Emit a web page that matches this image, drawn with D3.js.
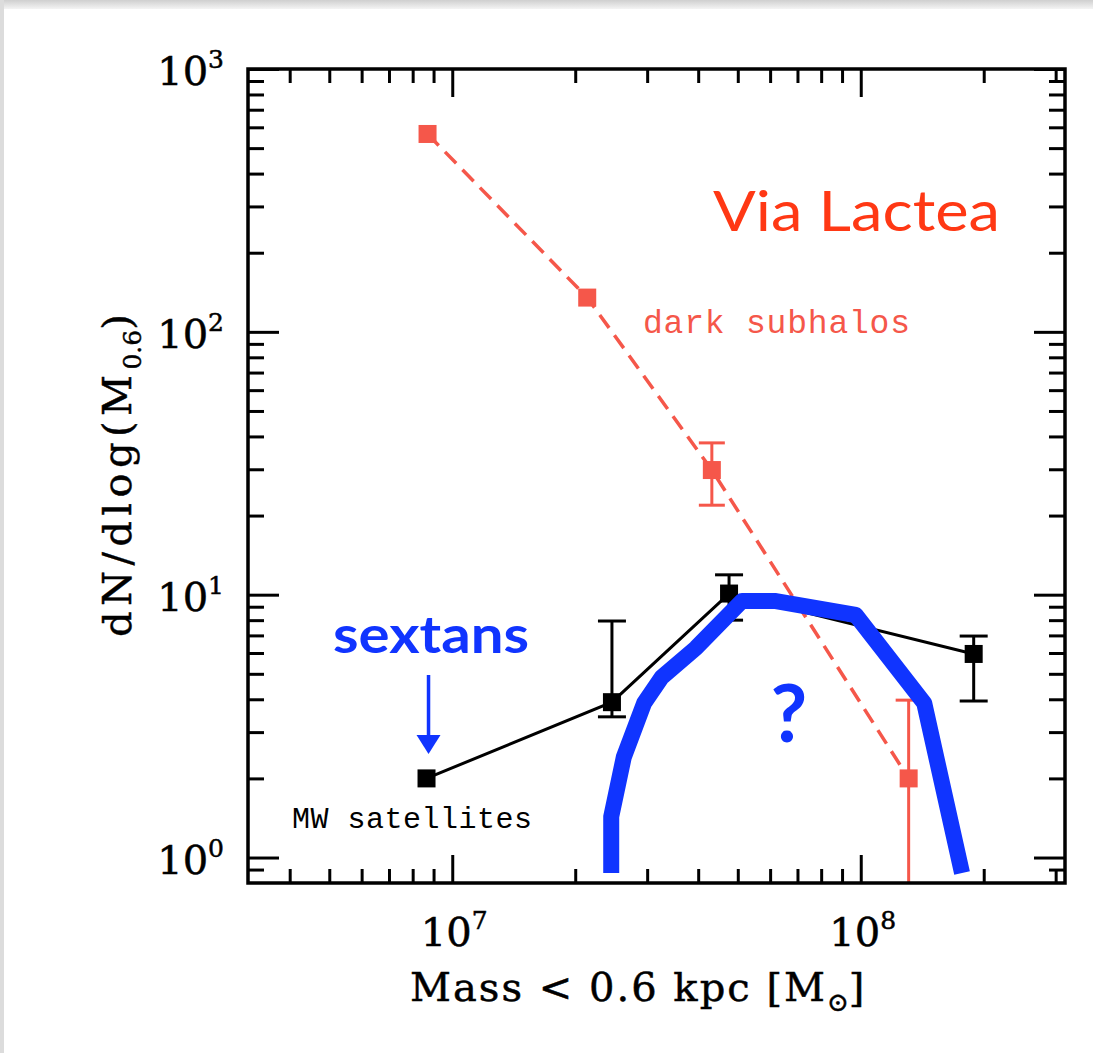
<!DOCTYPE html>
<html><head><meta charset="utf-8">
<script src="https://cdn.jsdelivr.net/npm/d3@7"></script>
<style>html,body{margin:0;padding:0;background:#fff;}svg{display:block;}</style>
</head><body>
<script>
// ---------- data ----------
const subhaloMass = [8.7e6, 2.14e7, 4.32e7, 1.31e8];
const subhaloN    = [566, 135, 29.8, 2.0];
const subhaloErrLo = [null, null, 21.9, 0];
const subhaloErrHi = [null, null, 37.8, 3.97];

const mwMass = [8.65e6, 2.46e7, 4.76e7, 1.89e8];
const mwN    = [2.0, 3.9, 10.1, 5.95];
const mwErrLo = [null, 3.43, 8.0, 3.94];
const mwErrHi = [null, 7.94, 11.9, 6.96];

// hand-drawn blue curve (data units)
const curveMass = [2.45e7, 2.45e7, 2.63e7, 2.95e7, 3.26e7, 3.95e7, 5.12e7, 6.2e7, 9.72e7, 1.43e8, 1.77e8];
const curveN    = [0.873, 1.43, 2.41, 3.87, 4.86, 6.27, 9.46, 9.46, 8.37, 3.87, 0.873];

const xMajorTicks = [1e7, 1e8];
const xMajorExp = ["7", "8"];
const yMajorTicks = [1, 10, 100, 1000];
const yMajorExp = ["0", "1", "2", "3"];

// ---------- layout ----------
const W = 1093, H = 1053;
const L = 248, R = 1065, T = 69, B = 883;
const RED = "#f5574a", BLUE = "#1034ff", VIA = "#ff3814";

const svg = d3.select("body").append("svg").attr("width", W).attr("height", H);

const defs = svg.append("defs");
const g1 = defs.append("linearGradient").attr("id","topShade").attr("x1",0).attr("x2",0).attr("y1",0).attr("y2",1);
g1.append("stop").attr("offset","0%").attr("stop-color","#cfcfcf");
g1.append("stop").attr("offset","100%").attr("stop-color","#f4f4f4");
svg.append("rect").attr("x",0).attr("y",0).attr("width",W).attr("height",H).attr("fill","#ffffff");
svg.append("rect").attr("x",0).attr("y",0).attr("width",W).attr("height",9).attr("fill","url(#topShade)");
svg.append("rect").attr("x",0).attr("y",0).attr("width",4).attr("height",H).attr("fill","#dcdcdc");

const x = d3.scaleLog().domain([Math.pow(10,6.5), Math.pow(10,8.5)]).range([L, R]);
const y = d3.scaleLog().domain([0.8, 1000]).range([B, T]);

const xMinor = [];
for (let e = 6; e <= 8; e++) for (let m = 2; m <= 9; m++) {
  const v = m * Math.pow(10, e);
  if (v > x.domain()[0] * 1.01 && v < x.domain()[1] * 0.99) xMinor.push(v);
}
const yMinor = [];
for (let e = -1; e <= 2; e++) for (let m = 2; m <= 9; m++) {
  const v = m * Math.pow(10, e);
  if (v > y.domain()[0] * 1.01 && v < y.domain()[1] * 0.99) yMinor.push(v);
}

const axG = svg.append("g");
function styleAxis(sel) {
  sel.select(".domain").remove();
  sel.selectAll(".tick line").attr("stroke", "#000").attr("stroke-width", 3);
}
axG.append("g").attr("transform", `translate(0,${B})`)
  .call(d3.axisBottom(x).tickValues(xMinor).tickSize(-14).tickFormat("")).call(styleAxis);
axG.append("g").attr("transform", `translate(0,${B})`)
  .call(d3.axisBottom(x).tickValues(xMajorTicks).tickSize(-28).tickFormat("")).call(styleAxis);
axG.append("g").attr("transform", `translate(0,${T})`)
  .call(d3.axisTop(x).tickValues(xMinor).tickSize(-14).tickFormat("")).call(styleAxis);
axG.append("g").attr("transform", `translate(0,${T})`)
  .call(d3.axisTop(x).tickValues(xMajorTicks).tickSize(-28).tickFormat("")).call(styleAxis);
axG.append("g").attr("transform", `translate(${L},0)`)
  .call(d3.axisLeft(y).tickValues(yMinor).tickSize(-16).tickFormat("")).call(styleAxis);
axG.append("g").attr("transform", `translate(${L},0)`)
  .call(d3.axisLeft(y).tickValues(yMajorTicks).tickSize(-31).tickFormat("")).call(styleAxis);
axG.append("g").attr("transform", `translate(${R},0)`)
  .call(d3.axisRight(y).tickValues(yMinor).tickSize(-16).tickFormat("")).call(styleAxis);
axG.append("g").attr("transform", `translate(${R},0)`)
  .call(d3.axisRight(y).tickValues(yMajorTicks).tickSize(-31).tickFormat("")).call(styleAxis);

// tick labels with superscripts
const labFont = "'DejaVu Serif', 'Liberation Serif', serif";
function heavy(sel, c) { return sel.attr("stroke", c).attr("stroke-width", 0.5).attr("paint-order", "stroke"); }
xMajorTicks.forEach((v, i) => {
  const t = svg.append("text").attr("x", x(v) + 2).attr("y", 946)
    .attr("text-anchor", "middle").attr("font-family", labFont).attr("font-size", 40).attr("fill", "#000");
  heavy(t, "#000");
  t.append("tspan").text("10");
  t.append("tspan").attr("font-size", 25).attr("dy", -17).text(xMajorExp[i]);
});
yMajorTicks.forEach((v, i) => {
  const t = svg.append("text").attr("x", 224).attr("y", y(v) + 16)
    .attr("text-anchor", "end").attr("font-family", labFont).attr("font-size", 40).attr("fill", "#000");
  heavy(t, "#000");
  t.append("tspan").text("10");
  t.append("tspan").attr("font-size", 25).attr("dy", -17).text(yMajorExp[i]);
});

// axis titles
const xt = svg.append("text").attr("x", 410).attr("y", 1001)
  .attr("font-family", labFont).attr("font-size", 40).attr("fill", "#000");
heavy(xt, "#000");
xt.append("tspan").attr("textLength", 415).text("Mass < 0.6 kpc [M");
xt.append("tspan").attr("font-size", 26).attr("dy", 10).text("\u2299");
xt.append("tspan").attr("dy", -10).text("]");

const yt = svg.append("text").attr("transform", "translate(131,637) rotate(-90)")
  .attr("font-family", labFont).attr("font-size", 40).attr("fill", "#000");
heavy(yt, "#000");
yt.append("tspan").attr("textLength", 262).text("dN/dlog(M");
yt.append("tspan").attr("font-size", 25).attr("dy", 10).text("0.6");
yt.append("tspan").attr("dy", -10).text(")");

// plot clip
defs.append("clipPath").attr("id", "plotClip").append("rect")
  .attr("x", L).attr("y", T).attr("width", R - L).attr("height", B - T);
const plot = svg.append("g").attr("clip-path", "url(#plotClip)");

const line = d3.line().x(d => x(d[0])).y(d => y(d[1]));

// dark subhalos
const subData = subhaloMass.map((m, i) => [m, subhaloN[i]]);
plot.append("path").attr("d", line(subData)).attr("fill", "none")
  .attr("stroke", RED).attr("stroke-width", 3.5).attr("stroke-dasharray", "16,9");
subhaloMass.forEach((m, i) => {
  if (subhaloErrHi[i] == null) return;
  const lo = subhaloErrLo[i] > 0 ? subhaloErrLo[i] : y.domain()[0] * 0.9;
  plot.append("line").attr("x1", x(m)).attr("x2", x(m)).attr("y1", y(lo)).attr("y2", y(subhaloErrHi[i]))
    .attr("stroke", RED).attr("stroke-width", 3);
  plot.append("line").attr("x1", x(m) - 13).attr("x2", x(m) + 13).attr("y1", y(subhaloErrHi[i])).attr("y2", y(subhaloErrHi[i]))
    .attr("stroke", RED).attr("stroke-width", 3);
  if (subhaloErrLo[i] > 0)
    plot.append("line").attr("x1", x(m) - 13).attr("x2", x(m) + 13).attr("y1", y(lo)).attr("y2", y(lo))
      .attr("stroke", RED).attr("stroke-width", 3);
});
plot.selectAll(".subpt").data(subData).join("rect")
  .attr("x", d => x(d[0]) - 9).attr("y", d => y(d[1]) - 9).attr("width", 18).attr("height", 18).attr("fill", RED);

// MW satellites
const mwData = mwMass.map((m, i) => [m, mwN[i]]);
plot.append("path").attr("d", line(mwData)).attr("fill", "none").attr("stroke", "#000").attr("stroke-width", 3);
mwMass.forEach((m, i) => {
  if (mwErrHi[i] == null) return;
  plot.append("line").attr("x1", x(m)).attr("x2", x(m)).attr("y1", y(mwErrLo[i])).attr("y2", y(mwErrHi[i]))
    .attr("stroke", "#000").attr("stroke-width", 3);
  [mwErrLo[i], mwErrHi[i]].forEach(v => {
    plot.append("line").attr("x1", x(m) - 14).attr("x2", x(m) + 14).attr("y1", y(v)).attr("y2", y(v))
      .attr("stroke", "#000").attr("stroke-width", 3);
  });
});
plot.selectAll(".mwpt").data(mwData).join("rect")
  .attr("x", d => x(d[0]) - 9).attr("y", d => y(d[1]) - 9).attr("width", 18).attr("height", 18).attr("fill", "#000");

// blue hand-drawn curve
const curveData = curveMass.map((m, i) => [m, curveN[i]]);
svg.append("path").attr("d", line(curveData)).attr("fill", "none")
  .attr("stroke", BLUE).attr("stroke-width", 16).attr("stroke-linejoin", "round").attr("stroke-linecap", "butt");

// frame
svg.append("rect").attr("x", L).attr("y", T).attr("width", R - L).attr("height", B - T)
  .attr("fill", "none").attr("stroke", "#000").attr("stroke-width", 3.5);

// annotations
const monoFont = "'Liberation Mono', 'DejaVu Sans Mono', monospace";
svg.append("text").attr("x", 643).attr("y", 333).attr("font-family", monoFont).attr("font-size", 33)
  .attr("fill", RED).attr("textLength", 267).text("dark subhalos");
svg.append("text").attr("x", 292).attr("y", 828).attr("font-family", monoFont).attr("font-size", 30)
  .attr("fill", "#000").attr("textLength", 240).text("MW satellites");
svg.append("text").attr("x", 713).attr("y", 231).attr("font-family", "Lato, 'Open Sans', sans-serif")
  .attr("font-size", 56).attr("fill", VIA).attr("textLength", 287).attr("lengthAdjust", "spacingAndGlyphs").text("Via Lactea");
svg.append("text").attr("x", 333).attr("y", 653).attr("font-family", "Lato, 'Open Sans', sans-serif")
  .attr("font-weight", "bold").attr("font-size", 52).attr("fill", BLUE).attr("textLength", 196).attr("lengthAdjust", "spacingAndGlyphs").text("sextans");
svg.append("text").attr("x", 789).attr("y", 742).attr("text-anchor", "middle").attr("font-family", "Lato, 'Open Sans', sans-serif")
  .attr("font-weight", "bold").attr("font-size", 80).attr("fill", BLUE).text("?");

// arrow pointing at sextans
const ax0 = x(mwMass[0]) + 2;
svg.append("line").attr("x1", ax0).attr("x2", ax0).attr("y1", 675).attr("y2", 740)
  .attr("stroke", BLUE).attr("stroke-width", 3.5);
svg.append("path").attr("d", `M${ax0 - 12},735 L${ax0 + 12},735 L${ax0},754 Z`).attr("fill", BLUE);
</script>
</body></html>
